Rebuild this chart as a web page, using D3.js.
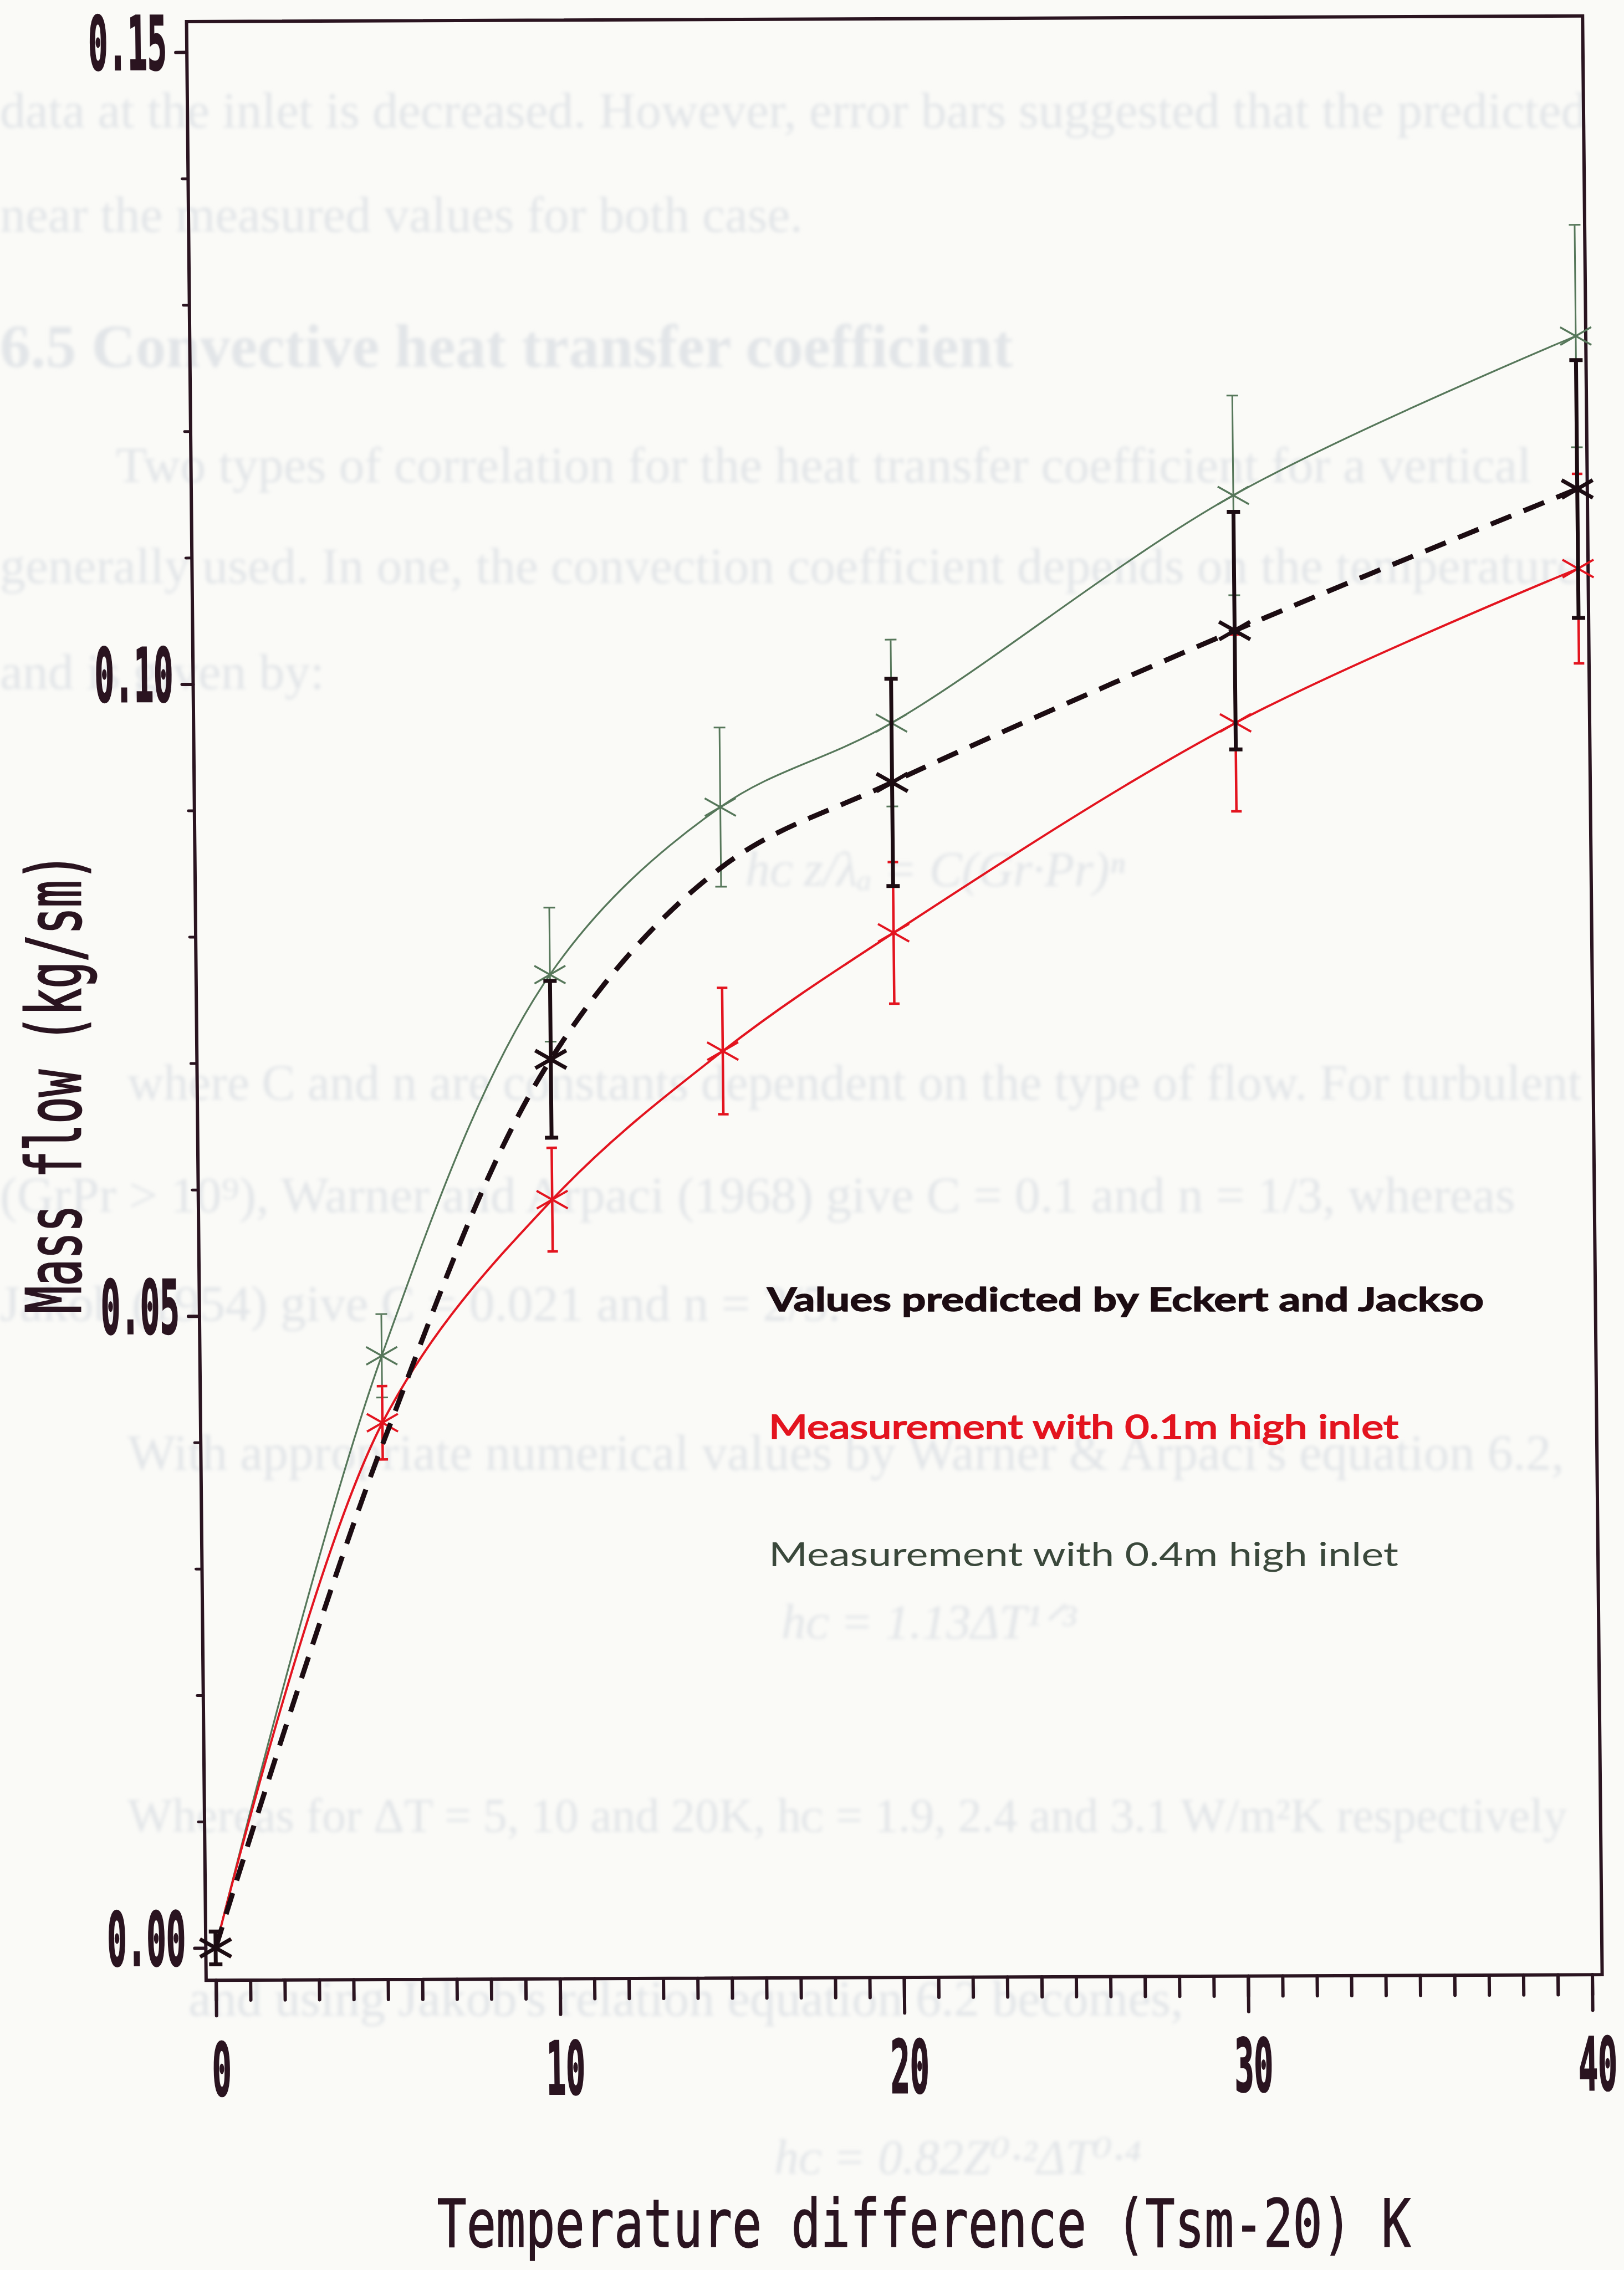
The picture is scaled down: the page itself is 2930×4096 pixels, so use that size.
<!DOCTYPE html>
<html>
<head>
<meta charset="utf-8">
<script src="https://cdn.jsdelivr.net/npm/d3@7"></script>
<style>
  html, body { margin: 0; padding: 0; background: #fafaf7; }
  svg { display: block; }
</style>
</head>
<body>
<svg id="chart" width="2930" height="4096"></svg>
<script>
// Temperature difference (Tsm-20) in K for each sample
const tempDiff = [0, 5, 10, 15, 20, 30, 40];

// Measured mass flow with the 0.4 m high inlet, and error half-widths
const flowHigh = [0, 0.0468, 0.0769, 0.0901, 0.0967, 0.1146, 0.1271];
const errHigh  = [0, 0.0033, 0.0053, 0.0063, 0.0066, 0.0079, 0.0088];

// Measured mass flow with the 0.1 m high inlet, and error half-widths
const flowLow = [0, 0.0415, 0.0591, 0.0708, 0.0801, 0.0966, 0.1087];
const errLow  = [0, 0.0029, 0.0041, 0.0050, 0.0056, 0.0070, 0.0075];

// Values predicted by Eckert and Jackson; null error = curve point without marker
const flowPred = [0, 0.0398, 0.0702, 0.0853, 0.0920, 0.1039, 0.1150];
const errPred  = [0.0013, null, 0.0062, null, 0.0082, 0.0094, 0.0102];

// Axis ticks and labels
const yTickValues = [0, 0.05, 0.10, 0.15];
const yTickLabels = ["0.00", "0.05", "0.10", "0.15"];
const xTickValues = [0, 10, 20, 30, 40];
const xTickLabels = ["0", "10", "20", "30", "40"];
const xTitle = "Temperature difference (Tsm-20) K";
const yTitle = "Mass flow (kg/sm)";
const legendLabels = [
  "Values predicted by Eckert and Jackso",
  "Measurement with 0.1m high inlet",
  "Measurement with 0.4m high inlet"
];

// Thesis text printed on the page behind the figure
const pageLines = [
  "data at the inlet is decreased. However, error bars suggested that the predicted",
  "near the measured values for both case.",
  "6.5 Convective heat transfer coefficient",
  "Two types of correlation for the heat transfer coefficient for a vertical",
  "generally used. In one, the convection coefficient depends on the temperature",
  "and is given by:",
  "h\u1d04 z/\u03bb\u2090 = C(Gr\u00b7Pr)\u207f",
  "where C and n are constants dependent on the type of flow. For turbulent",
  "(GrPr > 10\u2079), Warner and Arpaci (1968) give C = 0.1 and n = 1/3, whereas",
  "Jakob (1954) give C = 0.021 and n = 2/5.",
  "With appropriate numerical values by Warner & Arpaci's equation 6.2,",
  "h\u1d04 = 1.13\u0394T\u00b9\u141f\u00b3",
  "Whereas for \u0394T = 5, 10 and 20K, h\u1d04 = 1.9, 2.4 and 3.1 W/m\u00b2K respectively",
  "and using Jakob's relation equation 6.2 becomes,",
  "h\u1d04 = 0.82Z\u2070\u00b7\u00b2\u0394T\u2070\u00b7\u2074"
];
const pageLayout = [
  {x: 0,    y: 230,  size: 92},
  {x: 0,    y: 418,  size: 92},
  {x: 0,    y: 662,  size: 110, bold: true},
  {x: 209,  y: 870,  size: 92},
  {x: 0,    y: 1052, size: 92},
  {x: 0,    y: 1243, size: 92},
  {x: 1345, y: 1598, size: 88, italic: true},
  {x: 230,  y: 1984, size: 90},
  {x: 0,    y: 2187, size: 92},
  {x: 0,    y: 2383, size: 92},
  {x: 230,  y: 2652, size: 92},
  {x: 1410, y: 2956, size: 88, italic: true},
  {x: 230,  y: 3305, size: 86},
  {x: 340,  y: 3637, size: 92},
  {x: 1397, y: 3922, size: 88, italic: true}
];

const W = 2930, H = 4096;
const ink = "#2a1420";
const green = "#56775a";
const greenText = "#3a483b";
const red = "#e3141f";
const black = "#1c0c12";

const svg = d3.select("#chart");
svg.append("rect").attr("width", W).attr("height", H).attr("fill", "#fafaf7");

const defs = svg.append("defs");
defs.append("filter").attr("id", "soft")
  .attr("x", "-5%").attr("y", "-50%").attr("width", "110%").attr("height", "200%")
  .append("feGaussianBlur").attr("stdDeviation", 3);

// faint page text
svg.append("g")
  .attr("filter", "url(#soft)")
  .attr("fill", "#e2e5e8")
  .attr("font-family", "'Liberation Serif', 'DejaVu Serif', serif")
  .selectAll("text")
  .data(pageLines)
  .join("text")
  .attr("x", (d, i) => pageLayout[i].x)
  .attr("y", (d, i) => pageLayout[i].y)
  .attr("font-size", (d, i) => pageLayout[i].size)
  .attr("font-weight", (d, i) => pageLayout[i].bold ? 700 : 400)
  .attr("font-style", (d, i) => pageLayout[i].italic ? "italic" : "normal")
  .text(d => d);

// plot frame in pixels
const frame = {left: 371.9, right: 2890.6, top: 38.9, bottom: 3573.2};

const x = d3.scaleLinear().domain([0, 40]).range([389.6, 2872.5]);
const y = d3.scaleLinear().domain([0, 0.15]).range([3515.0, 94.1]);

// the printed figure sits slightly skewed on the page
const plot = svg.append("g")
  .attr("transform",
    `translate(${frame.left},${frame.bottom}) matrix(1,-0.004,0.01,1,0,0) translate(${-frame.left},${-frame.bottom})`);

function styleAxis(g, width) {
  g.select(".domain").remove();
  g.selectAll(".tick line").attr("stroke", ink).attr("stroke-width", width).attr("stroke-linecap", "round");
  g.selectAll(".tick text").remove();
}

// y axis: minor ticks every 0.01, major every 0.05
plot.append("g")
  .attr("transform", `translate(${frame.left},0)`)
  .call(d3.axisLeft(y).tickValues(d3.range(0, 16).map(i => i / 100)).tickSize(11).tickFormat(""))
  .call(g => styleAxis(g, 5));
plot.append("g")
  .attr("transform", `translate(${frame.left},0)`)
  .call(d3.axisLeft(y).tickValues(yTickValues).tickSize(20).tickFormat(""))
  .call(g => styleAxis(g, 6));

// x axis: minor ticks every 1 K, major every 10 K
plot.append("g")
  .attr("transform", `translate(0,${frame.bottom})`)
  .call(d3.axisBottom(x).tickValues(d3.range(0, 41)).tickSize(36).tickFormat(""))
  .call(g => styleAxis(g, 6));
plot.append("g")
  .attr("transform", `translate(0,${frame.bottom})`)
  .call(d3.axisBottom(x).tickValues(xTickValues).tickSize(64).tickFormat(""))
  .call(g => styleAxis(g, 6));

// frame
plot.append("rect")
  .attr("x", frame.left).attr("y", frame.top)
  .attr("width", frame.right - frame.left).attr("height", frame.bottom - frame.top)
  .attr("fill", "none").attr("stroke", ink).attr("stroke-width", 6);

// tick labels in a narrow plotter face
const labelFont = "'DejaVu Sans Mono', 'Liberation Mono', monospace";
plot.append("g").selectAll("text")
  .data(yTickValues)
  .join("text")
  .attr("transform", d => `translate(336,${y(d) + 31}) scale(0.44,1)`)
  .attr("text-anchor", "end")
  .attr("font-family", labelFont)
  .attr("font-weight", 700)
  .attr("font-size", 134)
  .attr("fill", ink).attr("stroke", ink).attr("stroke-width", 3)
  .text((d, i) => yTickLabels[i]);

plot.append("g").selectAll("text")
  .data(xTickValues)
  .join("text")
  .attr("transform", d => `translate(${x(d) + 9},3781) scale(0.44,1)`)
  .attr("text-anchor", "middle")
  .attr("font-family", labelFont)
  .attr("font-weight", 700)
  .attr("font-size", 132)
  .attr("fill", ink).attr("stroke", ink).attr("stroke-width", 3)
  .text((d, i) => xTickLabels[i]);

// series drawing helpers
function drawSeries(values, errs, opt) {
  const pts = values.map((v, i) => ({t: tempDiff[i], v, e: errs[i]}));
  const line = d3.line().x(d => x(d.t)).y(d => y(d.v)).curve(d3.curveCatmullRom.alpha(0.5));
  const g = plot.append("g");
  g.append("path")
    .attr("d", line(pts))
    .attr("fill", "none")
    .attr("stroke", opt.color)
    .attr("stroke-width", opt.lineWidth)
    .attr("stroke-dasharray", opt.dash || null)
    .attr("stroke-linejoin", "round");

  const marked = pts.filter(d => d.e !== null);
  const bars = g.append("g").attr("stroke", opt.color).attr("stroke-width", opt.barWidth).attr("fill", "none");
  bars.selectAll("path")
    .data(marked.filter(d => d.e > 0))
    .join("path")
    .attr("d", d => {
      const cx = x(d.t), y1 = y(d.v + d.e), y2 = y(d.v - d.e), c = opt.cap / 2;
      return `M${cx},${y1}L${cx},${y2}M${cx - c},${y1}L${cx + c},${y1}M${cx - c},${y2}L${cx + c},${y2}`;
    });

  g.append("g").attr("stroke", opt.color).attr("stroke-width", opt.markWidth).attr("fill", "none")
    .selectAll("path")
    .data(marked)
    .join("path")
    .attr("d", d => {
      const cx = x(d.t), cy = y(d.v), a = 28, b = 16;
      return `M${cx - a},${cy - b}L${cx + a},${cy + b}M${cx - a},${cy + b}L${cx + a},${cy - b}`;
    });
}

drawSeries(flowHigh, errHigh, {color: green, lineWidth: 3.2, barWidth: 3, cap: 21, markWidth: 3.5});
drawSeries(flowLow, errLow, {color: red, lineWidth: 4, barWidth: 4.5, cap: 19, markWidth: 4});
drawSeries(flowPred, errPred, {color: black, lineWidth: 9, dash: "40,24", barWidth: 7, cap: 24, markWidth: 7});

// axis titles
svg.append("text")
  .attr("x", 788.6).attr("y", 4054)
  .attr("textLength", 1757).attr("lengthAdjust", "spacingAndGlyphs")
  .attr("font-family", labelFont).attr("font-size", 120)
  .attr("fill", ink).attr("stroke", ink).attr("stroke-width", 1.5)
  .text(xTitle);

svg.append("text")
  .attr("transform", `translate(145,${1954.6 + 415}) rotate(-90)`)
  .attr("textLength", 830).attr("lengthAdjust", "spacingAndGlyphs")
  .attr("font-family", labelFont).attr("font-size", 136)
  .attr("fill", ink).attr("stroke", ink).attr("stroke-width", 3)
  .text(yTitle);

// legend text
const legendStyle = [
  {x: 1384, y: 2366, len: 1293, color: black, weight: 700, stroke: 1.5},
  {x: 1387, y: 2596, len: 1136, color: red, weight: 400, stroke: 2},
  {x: 1387, y: 2826, len: 1136, color: greenText, weight: 400, stroke: 0}
];
svg.append("g").selectAll("text")
  .data(legendLabels)
  .join("text")
  .attr("x", (d, i) => legendStyle[i].x)
  .attr("y", (d, i) => legendStyle[i].y)
  .attr("textLength", (d, i) => legendStyle[i].len)
  .attr("lengthAdjust", "spacingAndGlyphs")
  .attr("font-family", "Lato, 'Noto Sans', sans-serif")
  .attr("font-size", 60)
  .attr("font-weight", (d, i) => legendStyle[i].weight)
  .attr("fill", (d, i) => legendStyle[i].color)
  .attr("stroke", (d, i) => legendStyle[i].stroke ? legendStyle[i].color : "none")
  .attr("stroke-width", (d, i) => legendStyle[i].stroke)
  .text(d => d);
</script>
</body>
</html>
